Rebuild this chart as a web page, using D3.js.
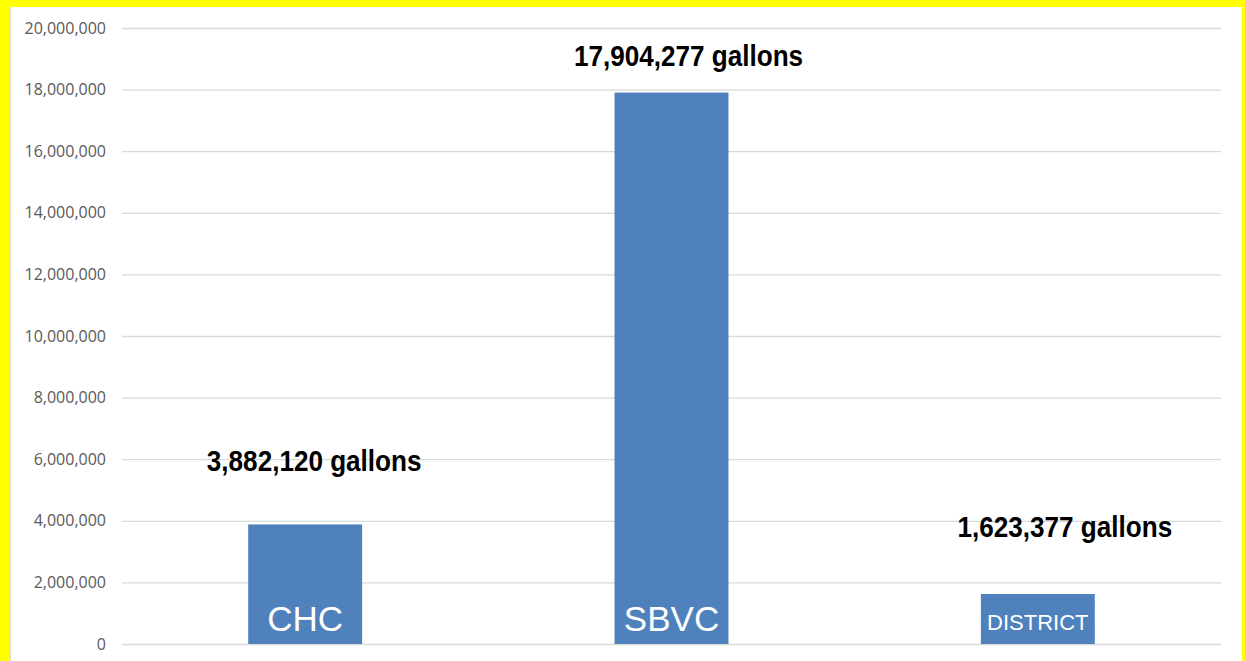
<!DOCTYPE html>
<html><head><meta charset="utf-8">
<script src="https://cdn.jsdelivr.net/npm/d3@7"></script>
<style>
html,body{margin:0;padding:0;background:#ffff00;}
svg{display:block;}
</style></head>
<body>
<script>
const categories = ["CHC", "SBVC", "DISTRICT"];
const values = [3882120, 17904277, 1623377];
const valueLabels = ["3,882,120 gallons", "17,904,277 gallons", "1,623,377 gallons"];
const tickValues = [0, 2000000, 4000000, 6000000, 8000000, 10000000, 12000000, 14000000, 16000000, 18000000, 20000000];

const W = 1245, H = 661;
const plot = {left: 122, right: 1221, top: 28, bottom: 644};
const catFont = [35, 35, 22];
const labelDx = [9, 17, 27];
const labelBaselineAbove = [53, 0, 57];

const svg = d3.select("body").append("svg").attr("width", W).attr("height", H);
svg.append("rect").attr("x", 10).attr("y", 7).attr("width", 1232).attr("height", H - 7).attr("fill", "#ffffff");
svg.append("line").attr("x1", 10.5).attr("x2", 10.5).attr("y1", 7).attr("y2", H).attr("stroke", "#d9d9d9");

const x = d3.scaleBand().domain(categories).range([plot.left, plot.right]).padding(0);
const y = d3.scaleLinear().domain([0, 20000000]).range([plot.bottom, plot.top]);
const barW = x.bandwidth() * 0.311;

const axis = d3.axisLeft(y).tickValues(tickValues).tickSize(-(plot.right - plot.left)).tickPadding(16).tickFormat(d3.format(","));
const g = svg.append("g").attr("transform", `translate(${plot.left},0)`).call(axis);
g.select(".domain").remove();
g.selectAll(".tick line").attr("stroke", "#d9d9d9").attr("stroke-width", 1.3);
g.selectAll(".tick text").attr("fill", "#595959").attr("font-family", "'Open Sans', sans-serif").attr("font-size", "16px");

const data = categories.map((c, i) => ({c, v: values[i], lab: valueLabels[i], i}));

svg.selectAll("rect.bar").data(data).enter().append("rect").attr("class", "bar")
  .attr("x", d => x(d.c) + x.bandwidth() / 2 - barW / 2)
  .attr("width", barW)
  .attr("y", d => y(d.v))
  .attr("height", d => y(0) - y(d.v))
  .attr("fill", "#4f81bd");

svg.selectAll("text.cat").data(data).enter().append("text").attr("class", "cat")
  .attr("x", d => x(d.c) + x.bandwidth() / 2)
  .attr("y", d => d.i === 2 ? 630 : 631)
  .attr("text-anchor", "middle")
  .attr("fill", "#ffffff")
  .attr("font-family", "'Liberation Sans', Arial, sans-serif")
  .attr("font-size", d => catFont[d.i] + "px")
  .text(d => d.c);

const sx = 0.9;
svg.selectAll("text.val").data(data).enter().append("text").attr("class", "val")
  .attr("transform", d => {
    const cx = x(d.c) + x.bandwidth() / 2 + labelDx[d.i];
    const by = d.i === 1 ? 65.5 : y(d.v) - labelBaselineAbove[d.i];
    return `translate(${cx},${by}) scale(${sx},1)`;
  })
  .attr("text-anchor", "middle")
  .attr("fill", "#000000")
  .attr("font-family", "'Liberation Sans', Arial, sans-serif")
  .attr("font-weight", "bold")
  .attr("font-size", "29px")
  .text(d => d.lab);
</script>
</body></html>
